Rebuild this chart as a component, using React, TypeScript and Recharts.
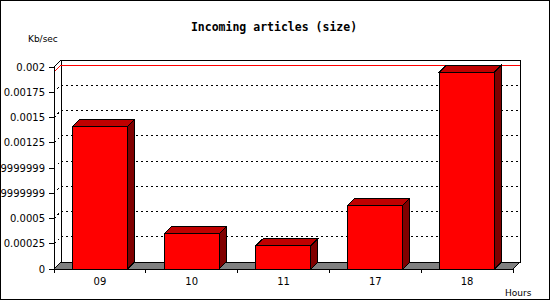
import { Bar, BarChart, CartesianGrid, Customized, XAxis, YAxis } from 'recharts';

const HOURS = ['09', '10', '11', '17', '18'];
const KB_PER_SEC = [0.00141, 0.00035, 0.00023, 0.00063, 0.00195];
const Y_TICKS = [0, 0.00025, 0.0005, 0.00075, 0.001, 0.00125, 0.0015, 0.00175, 0.002];
const Y_TICK_LABELS = ['0', '0.00025', '0.0005', '0.00074999999999', '0.00099999999999', '0.00125', '0.0015', '0.00175', '0.002'];

const W = 550;
const H = 300;
const PLOT = { left: 54, top: 67, right: 513, bottom: 269 };
const DEPTH = 7;
const FONT = 'DejaVu Sans';
const Y_MAX = Y_TICKS[Y_TICKS.length - 1];

const data = HOURS.map((hour, i) => ({ hour, value: KB_PER_SEC[i] }));
const maxValue = Math.max(...KB_PER_SEC);

// walls, floor, max line and fixed texts; no fills over the back wall so grid lines stay visible
function Frame() {
  const { left, top, right, bottom } = PLOT;
  const d = DEPTH;
  const yRed = bottom - (bottom - top) * (maxValue / Y_MAX);
  return (
    <g>
      <rect x={0.5} y={0.5} width={W - 1} height={H - 1} fill="none" stroke="#000" />
      <text x={274} y={31} textAnchor="middle" fontFamily="DejaVu Sans Mono" fontWeight="bold" fontSize={11.5} fill="#000">
        Incoming articles (size)
      </text>
      <text x={28} y={42} fontFamily={FONT} fontSize={9} fill="#000">Kb/sec</text>
      <text x={505} y={296} fontFamily={FONT} fontSize={9} fill="#000">Hours</text>
      <rect x={left + d} y={top - d} width={right - left} height={bottom - top} fill="none" stroke="#000" />
      <line x1={left} y1={top} x2={left + d} y2={top - d} stroke="#000" />
      <polygon
        points={`${left},${bottom} ${left + d},${bottom - d} ${right + d},${bottom - d} ${right},${bottom}`}
        fill="#808080"
        stroke="#000"
      />
      <polyline
        points={`${left},${yRed} ${left + d},${yRed - d} ${right + d},${yRed - d}`}
        fill="none"
        stroke="#ff0000"
      />
    </g>
  );
}

// dotted grid on left wall + back wall
function GridLine(props: any) {
  const { x1, x2, y1 } = props;
  const d = DEPTH;
  if (Math.abs(y1 - PLOT.bottom) < 1 || Math.abs(y1 - PLOT.top) < 1) return <g />;
  return (
    <g>
      <line x1={x1} y1={y1} x2={x1 + d} y2={y1 - d} stroke="#000" strokeDasharray="2 3" />
      <line x1={x1 + d} y1={y1 - d} x2={x2 + d} y2={y1 - d} stroke="#000" strokeDasharray="2 3" />
    </g>
  );
}

function Box(props: any) {
  const { x, y, width, height } = props;
  const d = DEPTH;
  return (
    <g>
      <polygon
        points={`${x},${y} ${x + d},${y - d} ${x + width + d},${y - d} ${x + width},${y}`}
        fill="#c00000"
        stroke="#000"
      />
      <polygon
        points={`${x + width},${y} ${x + width + d},${y - d} ${x + width + d},${y + height - d} ${x + width},${y + height}`}
        fill="#800000"
        stroke="#000"
      />
      <rect x={x} y={y} width={width} height={height} fill="#ff0000" stroke="#000" />
    </g>
  );
}

function HourTick(props: any) {
  const { x, payload, index } = props;
  const band = (PLOT.right - PLOT.left) / HOURS.length;
  const b = PLOT.bottom;
  return (
    <g>
      <line x1={x - band / 2} y1={b} x2={x - band / 2} y2={b + 4} stroke="#000" />
      {index === HOURS.length - 1 && <line x1={x + band / 2} y1={b} x2={x + band / 2} y2={b + 4} stroke="#000" />}
      <text x={x} y={b + 16} textAnchor="middle" fontFamily={FONT} fontSize={10} fill="#000">
        {payload.value}
      </text>
    </g>
  );
}

export default function App() {
  return (
    <div style={{ position: 'absolute', left: 0, top: 0, width: W, height: H, overflow: 'hidden', background: '#fff' }}>
      <style>{'.recharts-surface line, .recharts-surface rect, .recharts-surface polygon, .recharts-surface polyline, .recharts-surface path { shape-rendering: crispEdges; }'}</style>
      <BarChart
        width={W}
        height={H}
        data={data}
        margin={{ top: PLOT.top, right: W - PLOT.right, bottom: 0, left: 0 }}
        barCategoryGap="20%"
      >
        <Customized component={<Frame />} />
        <CartesianGrid vertical={false} horizontal={(p: any) => <GridLine key={p.key} {...p} />} />
        <XAxis
          dataKey="hour"
          height={H - PLOT.bottom}
          axisLine={{ stroke: '#000' }}
          tickLine={false}
          tick={<HourTick />}
          interval={0}
        />
        <YAxis
          width={PLOT.left}
          domain={[0, Y_MAX]}
          ticks={Y_TICKS}
          interval={0}
          axisLine={{ stroke: '#000' }}
          tickLine={{ stroke: '#000' }}
          tickSize={5}
          tickMargin={4}
          tickFormatter={(_v: number, i: number) => Y_TICK_LABELS[i]}
          tick={{ fontSize: 10, fill: '#000', fontFamily: FONT }}
        />
        <Bar dataKey="value" fill="#ff0000" shape={(p: any) => <Box {...p} />} isAnimationActive={false} />
      </BarChart>
    </div>
  );
}
